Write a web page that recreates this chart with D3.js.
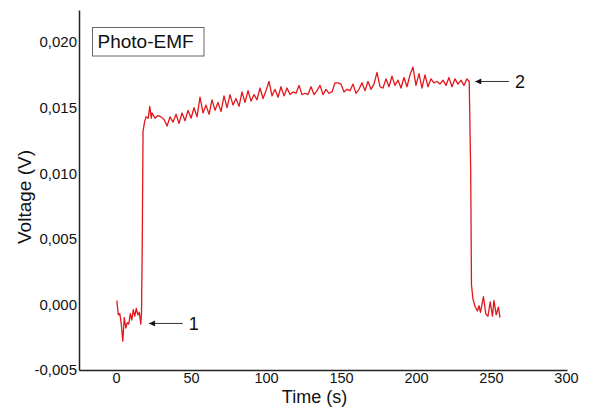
<!DOCTYPE html>
<html>
<head>
<meta charset="utf-8">
<script src="https://cdn.jsdelivr.net/npm/d3@7"></script>
<style>
  body { margin: 0; background: #fff; }
  text { font-family: "Liberation Sans", Arial, sans-serif; }
</style>
</head>
<body>
<div id="container"></div>
<script>
let w = 591;
let h = 412;

// time (s) and photo-EMF (mV)
let time = [0.5,1.5,2.5,3.5,4.5,5.5,6.5,7.5,8.5,9.5,10.5,11.5,12.5,13.5,14.5,15.5,16.5,17,17.5,18,19,20,21.5,
  22.5,23.5,24,26,28,30,32,34,36,38,40,42,44,46,48,50,52,54,56,58,60,62,64,66,68,70,72,74,76,78,80,82,84,86,88,90,
  92,94,96,98,100,102,104,106,108,110,112,114,116,118,120,122,124,126,128,130,132,134,136,138,140,142,144,146,148,
  150,152,154,156,158,160,162,164,166,168,170,172,174,176,178,180,182,184,186,188,190,192,194,196,198,200,202,204,
  206,208,210,212,214,216,218,220,222,224,226,228,230,232,234,235.5,236.5,237,238,239.5,241,242,243,245,246.5,248,
  249.5,251,252,253.5,255,256];
let voltage = [0.3,-0.8,-0.7,-1.5,-2.8,-1.0,-1.8,-1.4,-1.5,-0.7,-1.2,-0.4,-0.9,-0.3,-0.8,-0.6,-1.5,-0.6,5.0,13.2,13.9,14.3,14.2,
  15.1,14.2,14.6,14.2,14.4,14.3,14.1,13.6,14.3,13.9,14.5,13.8,14.6,14.0,14.8,14.2,15.0,14.3,15.8,14.6,15.2,14.5,15.6,14.8,15.4,14.7,
  15.9,15.0,16.0,15.2,15.7,15.1,16.2,15.4,16.3,15.5,16.0,15.6,16.5,15.7,16.3,17.0,15.9,16.4,15.8,16.6,15.9,16.5,16.0,16.2,16.1,16.7,
  16.0,16.1,16.0,16.6,16.0,16.3,16.7,16.0,16.4,16.1,16.2,16.9,16.9,16.8,16.2,16.4,16.3,16.8,16.1,16.4,16.9,16.3,17.0,16.4,16.8,
  17.7,16.6,16.5,17.2,16.6,17.4,16.7,17.1,16.5,17.3,16.6,17.5,18.1,16.7,17.6,16.5,17.5,16.6,17.2,16.9,17.0,16.8,17.1,16.7,17.3,
  16.6,17.2,16.8,17.1,16.7,17.2,17.0,10.0,1.5,0.4,-0.2,-0.5,-0.1,-0.6,0.6,-0.7,-0.9,0.2,-0.9,0.3,-0.8,-0.2,-1.0];

let xTicks = [0, 50, 100, 150, 200, 250, 300];
let yTicks = [-5, 0, 5, 10, 15, 20];

// annotation arrows: [label, time at tail, time at head, voltage]
let arrows = [["1", 44.5, 22, -1.45], ["2", 262, 239.5, 17.0]];

let data = time.map((t, i) => ({t: t, v: voltage[i]}));

let viz = d3.select("#container").append("svg")
    .attr("width", w)
    .attr("height", h);

let x = d3.scaleLinear().domain([-24.7, 300.7]).range([79, 567]);
let y = d3.scaleLinear().domain([-5, 22.45]).range([370, 10]);

let fmt = d => (d / 1000).toFixed(3).replace(".", ",");

let xAxis = viz.append("g")
    .attr("transform", "translate(0,370)")
    .call(d3.axisBottom(x).tickValues(xTicks).tickSize(0).tickPadding(3));
xAxis.selectAll("text").attr("font-size", 14.5).attr("fill", "#111").attr("font-family", "Liberation Sans, Arial, sans-serif");

let yAxis = viz.append("g")
    .attr("transform", "translate(79,0)")
    .call(d3.axisLeft(y).tickValues(yTicks).tickFormat(fmt).tickSize(0).tickPadding(2));
yAxis.selectAll("text").attr("font-size", 15).attr("fill", "#111").attr("font-family", "Liberation Sans, Arial, sans-serif");

viz.selectAll(".domain").attr("stroke", "#222").attr("stroke-width", 1.5);

// trace
let lineMaker = d3.line().x(d => x(d.t)).y(d => y(d.v));
viz.append("path")
    .datum(data)
    .attr("d", lineMaker)
    .attr("fill", "none")
    .attr("stroke", "#e3161b")
    .attr("stroke-width", 1.3)
    .attr("stroke-linejoin", "round");

// axis titles
viz.append("text")
    .text("Time (s)")
    .attr("x", 314.5)
    .attr("y", 403)
    .attr("text-anchor", "middle")
    .attr("font-size", 18)
    .attr("fill", "#111");

viz.append("text")
    .text("Voltage (V)")
    .attr("transform", "translate(31,197) rotate(-90)")
    .attr("text-anchor", "middle")
    .attr("font-size", 19)
    .attr("fill", "#111");

// legend box
viz.append("rect")
    .attr("x", 92.5)
    .attr("y", 27.5)
    .attr("width", 111.5)
    .attr("height", 28.5)
    .attr("fill", "#fff")
    .attr("stroke", "#666")
    .attr("stroke-width", 1);
viz.append("text")
    .text("Photo-EMF")
    .attr("x", 97.5)
    .attr("y", 48)
    .attr("font-size", 19)
    .attr("fill", "#111");

// arrows
viz.append("defs").append("marker")
    .attr("id", "head")
    .attr("viewBox", "0 0 10 10")
    .attr("refX", 10)
    .attr("refY", 5)
    .attr("markerWidth", 10)
    .attr("markerHeight", 6)
    .attr("markerUnits", "userSpaceOnUse")
    .attr("orient", "auto")
    .append("path")
    .attr("d", "M0,0 L10,5 L0,10 Z")
    .attr("fill", "#111");

let ann = viz.selectAll(".ann").data(arrows).enter().append("g").attr("class", "ann");
ann.append("line")
    .attr("x1", d => x(d[1]))
    .attr("x2", d => x(d[2]))
    .attr("y1", d => y(d[3]))
    .attr("y2", d => y(d[3]))
    .attr("stroke", "#333")
    .attr("stroke-width", 1)
    .attr("marker-end", "url(#head)");
ann.append("text")
    .text(d => d[0])
    .attr("x", d => x(d[1]) + 6)
    .attr("y", d => y(d[3]) + 6.5)
    .attr("font-size", 18)
    .attr("fill", "#111");
</script>
</body>
</html>
